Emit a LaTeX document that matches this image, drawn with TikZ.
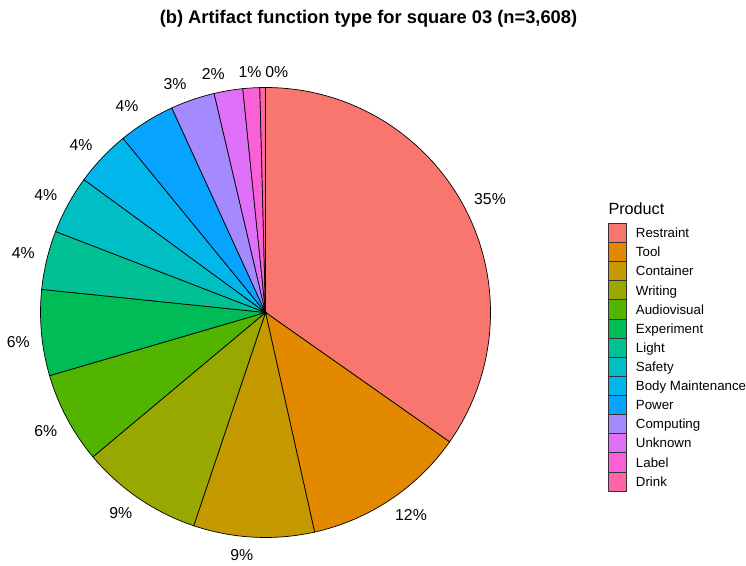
\documentclass[tikz,border=0pt]{standalone}
\usepackage{fontspec}
\setmainfont{Liberation Sans}
\usetikzlibrary{positioning}
\definecolor{colRestraint}{HTML}{F8766D}
\definecolor{colTool}{HTML}{E38900}
\definecolor{colContainer}{HTML}{C49A00}
\definecolor{colWriting}{HTML}{99A800}
\definecolor{colAudiovisual}{HTML}{53B400}
\definecolor{colExperiment}{HTML}{00BC56}
\definecolor{colLight}{HTML}{00C094}
\definecolor{colSafety}{HTML}{00BFC4}
\definecolor{colBody}{HTML}{00B6EB}
\definecolor{colPower}{HTML}{06A4FF}
\definecolor{colComputing}{HTML}{A58AFF}
\definecolor{colUnknown}{HTML}{DF70F8}
\definecolor{colLabel}{HTML}{FB61D7}
\definecolor{colDrink}{HTML}{FF66A8}

\begin{document}
\begin{tikzpicture}[x=1pt, y=1pt,
  slice/.style={draw=black, line width=0.7pt},
  pct/.style={font=\fontsize{15.8}{18}\selectfont, inner sep=0pt},
  key/.style={draw=black!80, line width=0.8pt, minimum width=17.7pt, minimum height=19.12pt, inner sep=0pt, outer sep=0pt},
  keytext/.style={font=\fontsize{13.3}{15}\selectfont, inner sep=0pt, text height=12pt, text depth=2.5pt}]
\fill[white] (0,0) rectangle (746,565);
\useasboundingbox (0,0) rectangle (746,565);

\node[font=\fontsize{18.3}{22}\selectfont\bfseries, anchor=base, inner sep=0pt] (title) at (368.5,541) {(b) Artifact function type for square 03 (n=3,608)};

% pie, clockwise from twelve o'clock
\coordinate (O) at (265.5,252.5);
\filldraw[slice, fill=colRestraint] (O) -- ++(90:225) arc[start angle=90, end angle=-35.1, radius=225] -- cycle;
\filldraw[slice, fill=colTool] (O) -- ++(-35.1:225) arc[start angle=-35.1, end angle=-77.4, radius=225] -- cycle;
\filldraw[slice, fill=colContainer] (O) -- ++(-77.4:225) arc[start angle=-77.4, end angle=-108.6, radius=225] -- cycle;
\filldraw[slice, fill=colWriting] (O) -- ++(-108.6:225) arc[start angle=-108.6, end angle=-140.1, radius=225] -- cycle;
\filldraw[slice, fill=colAudiovisual] (O) -- ++(-140.1:225) arc[start angle=-140.1, end angle=-163.7, radius=225] -- cycle;
\filldraw[slice, fill=colExperiment] (O) -- ++(-163.7:225) arc[start angle=-163.7, end angle=-185.9, radius=225] -- cycle;
\filldraw[slice, fill=colLight] (O) -- ++(-185.9:225) arc[start angle=-185.9, end angle=-201.1, radius=225] -- cycle;
\filldraw[slice, fill=colSafety] (O) -- ++(-201.1:225) arc[start angle=-201.1, end angle=-216.2, radius=225] -- cycle;
\filldraw[slice, fill=colBody] (O) -- ++(-216.2:225) arc[start angle=-216.2, end angle=-230.7, radius=225] -- cycle;
\filldraw[slice, fill=colPower] (O) -- ++(-230.7:225) arc[start angle=-230.7, end angle=-245.4, radius=225] -- cycle;
\filldraw[slice, fill=colComputing] (O) -- ++(-245.4:225) arc[start angle=-245.4, end angle=-256.8, radius=225] -- cycle;
\filldraw[slice, fill=colUnknown] (O) -- ++(-256.8:225) arc[start angle=-256.8, end angle=-264.2, radius=225] -- cycle;
\filldraw[slice, fill=colLabel] (O) -- ++(-264.2:225) arc[start angle=-264.2, end angle=-268.55, radius=225] -- cycle;
\filldraw[slice, fill=colDrink] (O) -- ++(-268.55:225) arc[start angle=-268.55, end angle=-270, radius=225] -- cycle;

% percentage labels
\node[pct] (pRestraint) at (490,366) {35\%};
\node[pct] (pTool) at (411,50) {12\%};
\node[pct] (pContainer) at (241.7,10) {9\%};
\node[pct] (pWriting) at (120.7,52) {9\%};
\node[pct] (pAudiovisual) at (45.7,134.3) {6\%};
\node[pct] (pExperiment) at (18.3,223.3) {6\%};
\node[pct] (pLight) at (23.3,312.3) {4\%};
\node[pct] (pSafety) at (45.7,370) {4\%};
\node[pct] (pBody) at (81,420) {4\%};
\node[pct] (pPower) at (127,459) {4\%};
\node[pct] (pComputing) at (175,481) {3\%};
\node[pct] (pUnknown) at (213.3,491) {2\%};
\node[pct] (pLabel) at (250,492.7) {1\%};
\node[pct] (pDrink) at (276.7,492.7) {0\%};

% legend
\node[font=\fontsize{16.2}{19}\selectfont, anchor=base west, inner sep=0pt] (legtitle) at (608.3,350) {Product};
\node[key, fill=colRestraint] (kRestraint) at (617.2,332.1) {};
\node[key, fill=colTool, below=0pt of kRestraint] (kTool) {};
\node[key, fill=colContainer, below=0pt of kTool] (kContainer) {};
\node[key, fill=colWriting, below=0pt of kContainer] (kWriting) {};
\node[key, fill=colAudiovisual, below=0pt of kWriting] (kAudiovisual) {};
\node[key, fill=colExperiment, below=0pt of kAudiovisual] (kExperiment) {};
\node[key, fill=colLight, below=0pt of kExperiment] (kLight) {};
\node[key, fill=colSafety, below=0pt of kLight] (kSafety) {};
\node[key, fill=colBody, below=0pt of kSafety] (kBody) {};
\node[key, fill=colPower, below=0pt of kBody] (kPower) {};
\node[key, fill=colComputing, below=0pt of kPower] (kComputing) {};
\node[key, fill=colUnknown, below=0pt of kComputing] (kUnknown) {};
\node[key, fill=colLabel, below=0pt of kUnknown] (kLabel) {};
\node[key, fill=colDrink, below=0pt of kLabel] (kDrink) {};

\node[keytext, right=9.7pt of kRestraint] (tRestraint) {Restraint};
\node[keytext, right=9.7pt of kTool] (tTool) {Tool};
\node[keytext, right=9.7pt of kContainer] (tContainer) {Container};
\node[keytext, right=9.7pt of kWriting] (tWriting) {Writing};
\node[keytext, right=9.7pt of kAudiovisual] (tAudiovisual) {Audiovisual};
\node[keytext, right=9.7pt of kExperiment] (tExperiment) {Experiment};
\node[keytext, right=9.7pt of kLight] (tLight) {Light};
\node[keytext, right=9.7pt of kSafety] (tSafety) {Safety};
\node[keytext, right=9.7pt of kBody] (tBody) {Body Maintenance};
\node[keytext, right=9.7pt of kPower] (tPower) {Power};
\node[keytext, right=9.7pt of kComputing] (tComputing) {Computing};
\node[keytext, right=9.7pt of kUnknown] (tUnknown) {Unknown};
\node[keytext, right=9.7pt of kLabel] (tLabel) {Label};
\node[keytext, right=9.7pt of kDrink] (tDrink) {Drink};
\end{tikzpicture}
\end{document}
